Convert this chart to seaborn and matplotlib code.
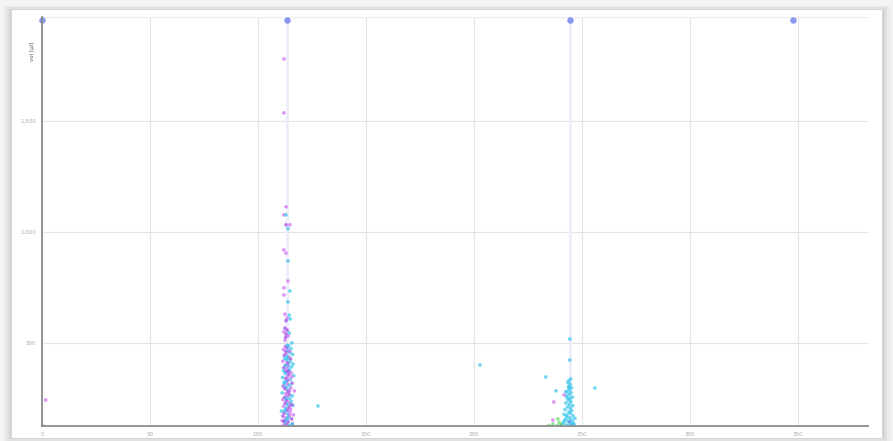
import matplotlib
matplotlib.use("Agg")
import matplotlib.pyplot as plt
from matplotlib.patches import Rectangle
from matplotlib.ticker import FuncFormatter, FixedLocator
import seaborn as sns
import pandas as pd

# ---------------- data ----------------
# dense cluster near x~113
c1_x = [114.2,112.6,113.4,115.3,111.8,113.9,112.9,114.8,113.1,116.0,112.2,113.6,114.4,112.4,115.1,113.2,
        111.5,114.9,113.7,116.3,112.8,114.1,115.6,112.0,113.5,114.6,111.9,113.0,115.4,112.7,114.3,116.6,
        113.8,111.4,112.9,115.0,114.0,113.3,112.1,115.8,113.6,114.7,111.7,113.1,115.2,112.5,114.2,116.9,
        113.9,111.2,112.9,114.5,115.9,113.4,112.3,114.8,111.6,113.2,115.5,114.1,112.6,113.7,116.2,111.9,
        114.4,112.8,115.1,113.5,110.9,114.9,112.2,113.9,116.4,111.5,114.3,112.7,115.6,113.1,111.2,114.0,
        112.5,116.0,113.3,114.7,111.8,115.9,112.1,113.6,114.6,112.4,115.3,113.0,114.6,112.3,115.6,114.1,
        112.6,113.8,114.7,
        112.0,112.0,113.0,112.0,114.8,112.0,113.0,113.9,112.0,112.0,113.0,113.0,113.9,113.9,114.8,
        113.9,112.5,114.5,113.5,115.0,113.0,112.5,113.5,112.0,114.5,113.0,114.0,112.8,115.7,112.5,113.5]
c1_y = [488,484,479,475,470,466,461,457,452,448,444,440,435,431,427,423,
        418,414,410,405,401,397,392,388,384,379,375,371,366,362,358,353,
        349,345,340,336,332,327,323,319,314,310,306,301,297,293,288,284,
        280,275,271,267,262,258,254,249,245,241,236,232,228,223,219,215,
        210,206,202,197,193,189,184,180,176,171,167,163,158,154,150,145,
        141,137,132,128,130,135,148,160,175,195,222,250,283,318,347,372,
        398,430,463,
        1779,1536,1113,1077,1032,919,905,779,748,716,1032,1077,1014,869,734,
        685,630,625,612,608,600,567,558,550,545,540,532,525,500,512,490]
c1_g = ["c","p","u","c","p","c","u","c","p","c","u","c","p","c","u","c",
        "p","c","u","c","p","b","c","u","p","c","c","u","p","c","u","c",
        "p","c","u","c","p","b","c","u","p","c","u","c","p","u","c","p",
        "u","c","p","u","c","p","u","c","p","u","c","p","u","c","b","p",
        "u","c","p","u","c","p","u","c","p","u","c","p","u","c","p","u",
        "c","p","u","c","p","c","u","c","p","c","u","c","p","c","p","u",
        "c","c","p",
        "p","p","p","p","p","p","p","p","p","p","u","c","c","c","c",
        "c","p","c","p","c","u","u","u","p","c","u","p","u","c","p","c"]

# cluster near x~244
c2_x = [244.8,244.0,243.5,244.6,243.9,245.2,244.3,243.3,245.0,244.1,242.9,245.6,244.5,243.7,244.9,242.6,
        244.2,245.8,243.4,244.7,242.2,245.3,243.9,244.6,241.8,245.9,243.1,244.4,242.5,245.4,243.7,241.4,
        244.9,246.3,242.8,243.9,245.7,241.0,240.3,244.2,243.0,246.8,242.0,246.0,244.0,243.2,242.5,
        237.0,241.7,236.6,
        236.6,238.9,234.7,238.7,240.5,239.5,
        244.4,244.4,233.3,238.0,256.0,202.8,127.8,
        1.7,0.5]
c2_y = [338,330,322,313,304,298,290,282,276,268,262,256,250,243,236,230,
        224,218,212,206,200,195,189,183,178,172,167,162,157,152,147,142,
        138,134,131,128,129,133,127,145,175,160,150,140,300,253,280,
        234,266,153,
        135,158,128,128,132,142,
        518,423,347,284,297,401,216,
        243,127]
c2_g = ["c"]*38 + ["b","b"] + ["c"]*7 + \
       ["p","p","p"] + \
       ["g"]*6 + \
       ["c"]*7 + \
       ["p","g"]

# event markers along the top and highlighted positions
event_x = [0, 113.4, 244.4, 347.7]
highlight_x = [113.4, 244.4]

y_ticks = [500, 1000, 1500]
x_ticks = [0, 50, 100, 150, 200, 250, 300, 350]
y_label = "vol [µl]"

palette = {"p": "#d36cf4", "u": "#9a45e6", "c": "#35c6ec", "b": "#5a8ff0", "g": "#5fdc66"}

df = pd.DataFrame({"x": c1_x + c2_x, "y": c1_y + c2_y, "g": c1_g + c2_g})
ymin, ymax = 126, 1968
xmin, xmax = 0, 382.5

# ---------------- figure ----------------
fig = plt.figure(figsize=(8.93, 4.41), dpi=100, facecolor="#f3f3f3")
# card with soft shadow
for i, a in enumerate([0.03, 0.04, 0.05]):
    d = (3 - i) * 0.003
    fig.patches.append(Rectangle((0.0135 - d, 0.007 - d), 0.974 + 2 * d, 0.97 + 2 * d,
                                 transform=fig.transFigure, facecolor="#000000",
                                 alpha=a, edgecolor="none", zorder=0))
fig.patches.append(Rectangle((0.0135, 0.007), 0.974, 0.97, transform=fig.transFigure,
                             facecolor="white", edgecolor="none", zorder=1))

ax = fig.add_axes([0.047, 0.034, 0.925, 0.9275])
ax.set_facecolor("white")
ax.set_zorder(2)

for hx in highlight_x:
    ax.axvline(hx, color="#eeedfc", lw=2.2, zorder=1)

sns.scatterplot(data=df, x="x", y="y", hue="g", palette=palette, s=7, alpha=0.7,
                linewidth=0, legend=False, ax=ax, zorder=3, clip_on=True)

ev = pd.DataFrame({"x": event_x, "y": [ymax - 12] * len(event_x)})
sns.scatterplot(data=ev, x="x", y="y", color="#7f8ef0", s=22, alpha=0.9, linewidth=0,
                legend=False, ax=ax, zorder=4, clip_on=False)

ax.set_xlim(xmin, xmax)
ax.set_ylim(ymin, ymax)
ax.xaxis.set_major_locator(FixedLocator(x_ticks))
ax.yaxis.set_major_locator(FixedLocator(y_ticks))
ax.yaxis.set_major_formatter(FuncFormatter(lambda v, p: f"{int(v):,}"))
ax.grid(True, color="#e4e4e4", lw=0.8, zorder=0)
ax.set_axisbelow(True)
ax.tick_params(length=0, labelsize=4, colors="#a8a8a8", pad=4)

for s in ["right"]:
    ax.spines[s].set_visible(False)
ax.spines["top"].set_color("#ececec")
ax.spines["top"].set_linewidth(0.8)
for s in ["left", "bottom"]:
    ax.spines[s].set_color("#8c8c8c")
    ax.spines[s].set_linewidth(1.3)
    ax.spines[s].set_zorder(5)

ax.set_xlabel("")
ax.set_ylabel(y_label, fontsize=4, color="#555555")
ax.yaxis.set_label_coords(-0.008, 0.915)

fig.savefig("out.png", dpi=100, facecolor=fig.get_facecolor())
